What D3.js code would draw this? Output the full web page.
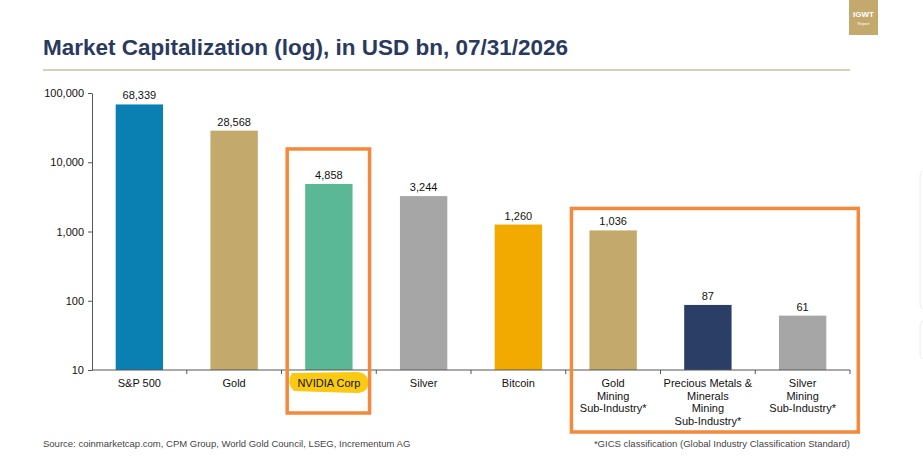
<!DOCTYPE html>
<html>
<head>
<meta charset="utf-8">
<script src="https://cdn.jsdelivr.net/npm/d3@7"></script>
<style>
  body { margin: 0; background: #fff; }
  text { font-family: "Liberation Sans", Arial, sans-serif; }
</style>
</head>
<body>
<div id="chart"></div>
<script>
// data
const categories = ["S&P 500", "Gold", "NVIDIA Corp", "Silver", "Bitcoin",
  "Gold\nMining\nSub-Industry*", "Precious Metals &\nMinerals\nMining\nSub-Industry*", "Silver\nMining\nSub-Industry*"];
const values = [68339, 28568, 4858, 3244, 1260, 1036, 87, 61];
const colors = ["#0a80b2", "#c3a96b", "#5bb896", "#a6a6a6", "#f2a900", "#c3a96b", "#2b3e66", "#a6a6a6"];
const yTicks = [10, 100, 1000, 10000, 100000];
const highlightGroups = [[2, 2], [5, 7]];

const W = 923, H = 457;
const margin = {top: 93, right: 73, bottom: 87, left: 92},
    width = W - margin.left - margin.right,
    height = H - margin.top - margin.bottom;

const svg = d3.select("#chart").append("svg")
  .attr("width", W)
  .attr("height", H);

// title + rule
svg.append("text")
  .attr("x", 43).attr("y", 55)
  .attr("fill", "#2a3a5e")
  .style("font-family", "'Liberation Sans Narrow', 'Liberation Sans', Arial, sans-serif")
  .style("font-size", "22px")
  .style("font-weight", "bold")
  .attr("textLength", 525)
  .attr("lengthAdjust", "spacingAndGlyphs")
  .text("Market Capitalization (log), in USD bn, 07/31/2026");

svg.append("line")
  .attr("x1", 43).attr("x2", 850)
  .attr("y1", 70).attr("y2", 70)
  .attr("stroke", "#d9d0b4")
  .attr("stroke-width", 2);

// IGWT badge
const badge = svg.append("g").attr("transform", "translate(849,0)");
badge.append("rect").attr("width", 29).attr("height", 35).attr("fill", "#c3a96b");
badge.append("text").attr("x", 14.5).attr("y", 17).attr("text-anchor", "middle")
  .attr("fill", "#fff").style("font-size", "8px").style("font-weight", "bold").text("IGWT");
badge.append("text").attr("x", 14.5).attr("y", 25).attr("text-anchor", "middle")
  .attr("fill", "#fff").style("font-size", "4px").text("Report");

// faint ui edge on the right
svg.append("rect").attr("x", 920).attr("y", 170).attr("width", 20).attr("height", 140)
  .attr("rx", 6).attr("fill", "none").attr("stroke", "#ececf0");
svg.append("rect").attr("x", 920).attr("y", 320).attr("width", 20).attr("height", 40)
  .attr("rx", 6).attr("fill", "none").attr("stroke", "#ececf0");

const g = svg.append("g")
  .attr("transform", "translate(" + margin.left + "," + margin.top + ")");

const x = d3.scaleBand()
  .domain(categories)
  .range([0, width])
  .paddingInner(0.5)
  .paddingOuter(0.25);

const y = d3.scaleLog()
  .domain([10, 100000])
  .range([height, 0]);

// highlighter behind NVIDIA label
const nvX = x(categories[2]) + x.bandwidth() / 2;
g.append("path")
  .attr("d", "M" + (nvX - 37) + "," + (height + 3) +
    " Q" + (nvX - 43) + "," + (height + 13) + " " + (nvX - 35) + "," + (height + 21) +
    " Q" + (nvX - 10) + "," + (height + 22) + " " + (nvX + 30) + "," + (height + 23) +
    " Q" + (nvX + 41) + "," + (height + 21) + " " + (nvX + 39) + "," + (height + 10) +
    " Q" + (nvX + 37) + "," + (height + 2) + " " + (nvX + 28) + "," + (height + 2) + " Z")
  .attr("fill", "#f9c914");

// bars
g.selectAll(".bar")
  .data(values)
  .enter().append("rect")
    .attr("class", "bar")
    .attr("x", (d, i) => x(categories[i]))
    .attr("width", x.bandwidth())
    .attr("y", d => y(d))
    .attr("height", d => height - y(d))
    .attr("fill", (d, i) => colors[i]);

// value labels
g.selectAll(".val")
  .data(values)
  .enter().append("text")
    .attr("class", "val")
    .attr("x", (d, i) => x(categories[i]) + x.bandwidth() / 2)
    .attr("y", d => y(d) - 5)
    .attr("text-anchor", "middle")
    .attr("fill", "#111")
    .style("font-size", "11px")
    .text(d => d3.format(",")(d));

// y axis
const yAxis = g.append("g")
  .call(d3.axisLeft(y).tickValues(yTicks).tickFormat(d3.format(",")).tickSize(4).tickSizeOuter(0));
yAxis.select(".domain").attr("stroke", "#555");
yAxis.selectAll(".tick line").attr("stroke", "#555");
yAxis.selectAll("text")
  .attr("x", -8)
  .attr("fill", "#111")
  .style("font-size", "11px")
  .style("font-family", "'Liberation Sans', Arial, sans-serif");

// x axis: ticks on band boundaries
const step = x.step();
const boundaries = d3.range(categories.length + 1).map(i => i * step);
const xAxis = g.append("g").attr("transform", "translate(0," + height + ")");
xAxis.append("line")
  .attr("x1", 0).attr("x2", width)
  .attr("stroke", "#555");
xAxis.selectAll(".bt")
  .data(boundaries.slice(1))
  .enter().append("line")
    .attr("class", "bt")
    .attr("x1", d => d).attr("x2", d => d)
    .attr("y1", 0).attr("y2", 4)
    .attr("stroke", "#555");

const labels = xAxis.selectAll(".cat")
  .data(categories)
  .enter().append("text")
    .attr("class", "cat")
    .attr("x", d => x(d) + x.bandwidth() / 2)
    .attr("y", 17)
    .attr("text-anchor", "middle")
    .attr("fill", "#111")
    .style("font-size", "11px");
labels.each(function(d) {
  const t = d3.select(this);
  d.split("\n").forEach((line, i) => {
    t.append("tspan")
      .attr("x", t.attr("x"))
      .attr("dy", i === 0 ? 0 : 12.5)
      .text(line);
  });
});

// orange highlight boxes
highlightGroups.forEach(([a, b]) => {
  const single = a === b;
  const x0 = margin.left + x(categories[a]) - 18;
  const x1 = margin.left + x(categories[b]) + x.bandwidth() + (single ? 17 : 32);
  const top = margin.top + y(values[a]) - (single ? 35 : 22);
  const bottom = single ? 413 : 432;
  svg.append("rect")
    .attr("x", x0).attr("y", top)
    .attr("width", x1 - x0).attr("height", bottom - top)
    .attr("fill", "none")
    .attr("stroke", "#f5883a")
    .attr("stroke-width", 3.5);
});

// footnotes
svg.append("text")
  .attr("x", 43).attr("y", 447)
  .attr("fill", "#444")
  .style("font-size", "9.5px")
  .text("Source: coinmarketcap.com, CPM Group, World Gold Council, LSEG, Incrementum AG");
svg.append("text")
  .attr("x", 850).attr("y", 447)
  .attr("text-anchor", "end")
  .attr("fill", "#444")
  .style("font-size", "9.5px")
  .text("*GICS classification (Global Industry Classification Standard)");
</script>
</body>
</html>
